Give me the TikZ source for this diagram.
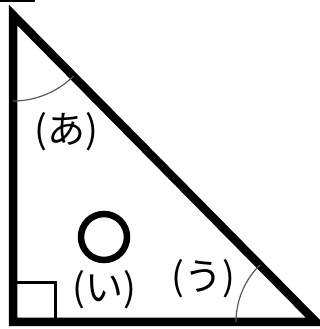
\documentclass[tikz,border=0pt]{standalone}
\usepackage{fontspec}
\usepackage{tikz}
\usetikzlibrary{positioning,calc}
\newfontfamily\jpfont{Noto Sans CJK JP}

\begin{document}
\begin{tikzpicture}[x=1pt,y=1pt,
    edge/.style={line width=8.5pt,line join=miter},
    anglearc/.style={gray!70!black,line width=1.2pt},
    label/.style={font=\jpfont\fontsize{38}{38}\selectfont,inner sep=0pt}]
  \useasboundingbox (0,0) rectangle (320,329);

  % ── Vertices ──
  \coordinate (A) at (13,314);
  \coordinate (B) at (13,7);
  \coordinate (C) at (316,7);

  % ── Top mark ──
  \draw[line width=2.5pt] (0,328) -- (35,328);

  % ── Triangle ──
  \draw[edge] (A) -- (B) -- (C) -- cycle;

  % ── Right angle mark ──
  \draw[line width=3pt] ($(B)+(0,39)$) -- ($(B)+(42,39)$) -- ($(B)+(42,0)$);

  % ── Angle arcs ──
  \draw[anglearc] ($(A)+(-90:86)$) arc[start angle=-90,end angle=-45.4,radius=86];
  \draw[anglearc] ($(C)+(180:80)$) arc[start angle=180,end angle=134.6,radius=80];

  % ── Labels ──
  \node[label] (a) at (66,197) {(あ)};
  \node[label] (i) at (104,39) {(い)};
  \node[label] (u) at (203,50) {(う)};

  % ── Circle ──
  \draw[line width=6.5pt] (104,92) circle (23);
\end{tikzpicture}
\end{document}
